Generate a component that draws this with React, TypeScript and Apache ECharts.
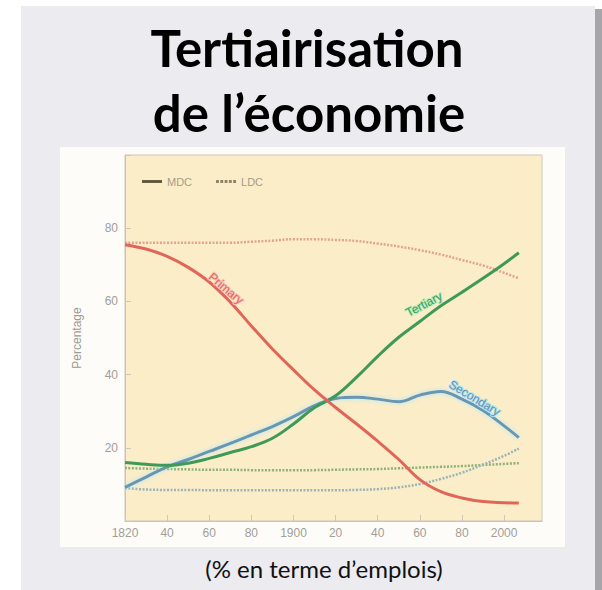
import React, { useEffect, useRef } from "react";
import * as echarts from "echarts";

const years = [1820, 1830, 1840, 1850, 1860, 1870, 1880, 1890, 1900, 1910, 1920, 1930, 1940, 1950, 1960, 1970, 1980, 1990, 2000, 2007];

const mdcPrimary = [75.5, 74.3, 72.3, 69.3, 65.3, 59.8, 53.3, 47, 41.3, 35.8, 31, 26.5, 21.8, 16.8, 11.3, 8, 6.3, 5.3, 5, 4.9];
const mdcTertiary = [16, 15.5, 15.2, 15.8, 17.1, 18.7, 20.3, 22.6, 26.5, 31, 34.2, 39.3, 45, 50.2, 54.5, 58.8, 62.5, 66.3, 70.3, 73.3];
const mdcSecondary = [9.2, 12, 14.8, 16.8, 19, 21.2, 23.5, 25.8, 28.5, 31.5, 33.5, 33.8, 33.3, 32.6, 34.4, 35.4, 33.3, 30.2, 26, 22.8];

const ldcPrimary = [76, 76, 76, 76, 76, 76, 76.3, 76.6, 77, 77, 76.8, 76.5, 75.8, 75, 74, 72.8, 71.3, 69.8, 67.8, 66.3];
const ldcTertiary = [14.5, 14.3, 14.2, 14.1, 14, 14, 13.9, 13.9, 13.9, 13.9, 14, 14.1, 14.2, 14.4, 14.6, 14.8, 15, 15.3, 15.6, 15.8];
const ldcSecondary = [9, 8.6, 8.5, 8.5, 8.4, 8.4, 8.4, 8.4, 8.4, 8.4, 8.4, 8.5, 8.7, 9.2, 10.1, 11.5, 13.2, 15.4, 17.8, 19.8];

const legendNames = ["MDC", "LDC"];
const curveLabels = [
  { name: "Primary", at: [1868, 63.5], rotate: -40 },
  { name: "Tertiary", at: [1962, 59.2], rotate: 28 },
  { name: "Secondary", at: [1986, 33.6], rotate: -31 },
];

const pairs = (vals: number[]) => years.map((y, i) => [y, vals[i]]);

const DOTS = "path://M0,0h2v2h-2z M3,0h2v2h-2z M6,0h2v2h-2z M9,0h2v2h-2z M12,0h2v2h-2z";
const SOLID = "path://M0,0h14v2h-14z";

export default function App() {
  const ref = useRef<HTMLDivElement>(null);
  useEffect(() => {
    if (!ref.current) return;
    const chart = echarts.init(ref.current, null, { renderer: "svg" });
    const labelPoint = (idx: number, color: string, halo: string) => ({
      symbol: "circle",
      symbolSize: 0,
      silent: true,
      data: [
        {
          coord: curveLabels[idx].at,
          label: {
            show: true,
            position: "inside",
            formatter: curveLabels[idx].name,
            rotate: curveLabels[idx].rotate,
            color,
            fontSize: 12,
            fontFamily: "Liberation Sans",
            textBorderColor: halo,
            textBorderWidth: 2,
          },
        },
      ],
    });
    const line = (name: string, vals: number[], color: string, dotted: boolean, extra: any = {}) => ({
      type: "line",
      name,
      data: pairs(vals),
      showSymbol: false,
      smooth: 0.4,
      silent: true,
      lineStyle: {
        color,
        width: dotted ? 2.5 : 3,
        type: dotted ? [2, 1.5] : "solid",
        ...(extra.lineStyle || {}),
      },
      itemStyle: { color },
      z: dotted ? 2 : 3,
      ...(extra.markPoint ? { markPoint: extra.markPoint } : {}),
    });
    chart.setOption({
      animation: false,
      backgroundColor: "#ffffff",
      graphic: [
        { type: "rect", shape: { x: 21, y: 6, width: 574, height: 590 }, style: { fill: "#ebebf0" }, z: -10 },
        { type: "rect", shape: { x: 595, y: 9, width: 7, height: 590 }, style: { fill: "#a6a6a8" }, z: -10 },
        { type: "rect", shape: { x: 60, y: 147, width: 505, height: 400 }, style: { fill: "#fdfcf9" }, z: -9 },
        {
          type: "text",
          x: 307,
          y: 47,
          style: { text: "Tertiairisation", font: "bold 51px Lato", fill: "#000", textAlign: "center", textVerticalAlign: "middle" },
        },
        {
          type: "text",
          x: 309,
          y: 112,
          style: { text: "de l’économie", font: "bold 51px Lato", fill: "#000", textAlign: "center", textVerticalAlign: "middle" },
        },
        {
          type: "text",
          x: 324,
          y: 568,
          style: { text: "(% en terme d’emplois)", font: "normal 24px Lato", fill: "#111", textAlign: "center", textVerticalAlign: "middle" },
        },
      ],
      legend: {
        data: [
          { name: legendNames[0], icon: SOLID },
          { name: legendNames[1], icon: DOTS },
        ],
        left: 137,
        top: 171,
        itemWidth: 20,
        itemHeight: 3,
        itemGap: 24,
        textStyle: { color: "#a49d88", fontSize: 11, fontFamily: "Liberation Sans" },
        selectedMode: false,
      },
      grid: {
        show: true,
        left: 125,
        right: 60,
        top: 155,
        bottom: 69,
        backgroundColor: "#fcedc9",
        borderColor: "#cdc6b6",
        borderWidth: 1,
      },
      xAxis: {
        type: "value",
        min: 1820,
        max: 2018,
        interval: 20,
        axisLine: { show: true, lineStyle: { color: "#c9c3b5" } },
        axisTick: { show: true, inside: true, length: 6, lineStyle: { color: "#cfc8b8" } },
        splitLine: { show: false },
        axisLabel: {
          color: "#a19e98",
          fontSize: 12,
          fontFamily: "Liberation Sans",
          margin: 6,
          showMaxLabel: false,
          formatter: (v: number) => {
            if (v % 20 !== 0) return "";
            if (v === 1820 || v % 100 === 0) return String(v);
            return String(v % 100);
          },
        },
      },
      yAxis: {
        type: "value",
        min: 0,
        max: 100,
        interval: 20,
        name: "Percentage",
        nameLocation: "middle",
        nameGap: 42,
        nameRotate: 90,
        nameTextStyle: { color: "#9d9a94", fontSize: 12, fontFamily: "Liberation Sans" },
        axisLine: { show: true, lineStyle: { color: "#c9c3b5" } },
        axisTick: { show: true, inside: true, length: 6, lineStyle: { color: "#cfc8b8" } },
        splitLine: { show: false },
        axisLabel: {
          color: "#a19e98",
          fontSize: 12,
          fontFamily: "Liberation Sans",
          margin: 7,
          formatter: (v: number) => (v === 0 || v === 100 ? "" : String(v)),
        },
      },
      series: [
        { type: "line", name: "MDC", data: [], lineStyle: { color: "#5d5538", width: 3 }, itemStyle: { color: "#5d5538" }, symbol: "none" },
        { type: "line", name: "LDC", data: [], lineStyle: { color: "#8c8668", width: 3, type: [2, 1.5] }, itemStyle: { color: "#8c8668" }, symbol: "none" },
        line("LDC Primary", ldcPrimary, "#e2a491", true),
        line("LDC Tertiary", ldcTertiary, "#8fb276", true),
        line("LDC Secondary", ldcSecondary, "#9ab4b8", true),
        line("MDC Secondary", mdcSecondary, "#6797b4", false, {
          lineStyle: { shadowColor: "#aee6f4", shadowBlur: 5 },
          markPoint: labelPoint(2, "#5f8fae", "#b5e6f3"),
        }),
        line("MDC Tertiary", mdcTertiary, "#3f9a58", false, { markPoint: labelPoint(1, "#3f9a58", "#b7eec0") }),
        line("MDC Primary", mdcPrimary, "#e0665a", false, { markPoint: labelPoint(0, "#e0665a", "#f8c8bc") }),
      ],
    });
    return () => chart.dispose();
  }, []);
  return <div ref={ref} style={{ position: "fixed", left: 0, top: 0, width: 602, height: 590 }} />;
}
